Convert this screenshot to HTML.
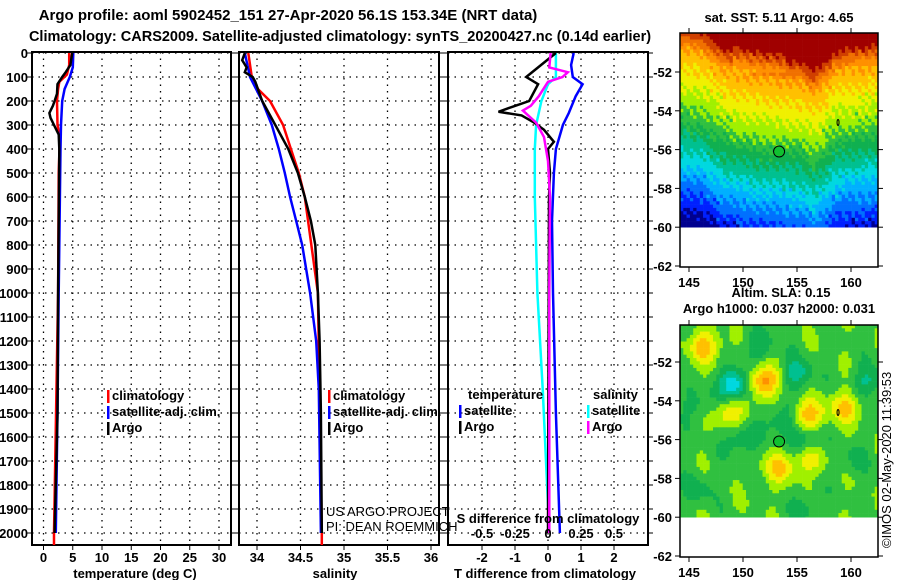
<!DOCTYPE html>
<html><head><meta charset="utf-8">
<style>
body{margin:0;background:#fff;width:900px;height:580px;overflow:hidden;font-family:"Liberation Sans",sans-serif}
svg text{font-family:"Liberation Sans",sans-serif;font-weight:bold;font-size:13px;fill:#000}
.thin{font-weight:normal !important}
</style></head><body>
<svg id="c" width="900" height="580"></svg>
<script>
// ---- data (depth in dbar) ----
const depthTicks=[0,100,200,300,400,500,600,700,800,900,1000,1100,1200,1300,1400,1500,1600,1700,1800,1900,2000];
const tempTicks=[0,5,10,15,20,25,30];
const salTicks=[34,34.5,35,35.5,36];
const salTickLabels=["34","34.5","35","35.5","36"];
const dTTicks=[-2,-1,0,1,2];
const dSTicks=[-0.5,-0.25,0,0.25,0.5];
const dSTickLabels=["-0.5","-0.25","0","0.25","0.5"];

const argoTDepth=[0,50,80,100,130,170,200,220,250,270,300,340,400,1000,1500,2000];
const argoTVal=[4.9,4.6,3.8,3.2,2.4,2.3,1.9,1.6,1.0,1.2,1.8,2.6,2.7,2.5,2.4,1.9];
const climTDepth=[0,50,90,120,150,200,300,350,500,1000,2000,2050];
const climTVal=[4.4,4.4,4.0,2.7,2.5,2.3,2.4,2.8,2.6,2.5,1.8,1.8];
const satTDepth=[0,60,100,150,200,300,400,600,1000,1500,2000];
const satTVal=[5.1,5.0,4.5,3.6,3.2,3.0,2.9,2.8,2.6,2.4,2.1];

const argoSDepth=[0,30,60,80,100,120,200,300,400,500,600,700,800,1000,1200,1500,2000];
const argoSVal=[33.86,33.83,33.88,33.86,33.95,33.98,34.06,34.21,34.36,34.47,34.55,34.62,34.67,34.70,34.72,34.735,34.745];
const climSDepth=[0,100,150,200,300,400,500,600,1000,2000,2050];
const climSVal=[33.9,33.94,34.01,34.15,34.30,34.39,34.48,34.55,34.70,34.745,34.745];
const satSDepth=[0,100,200,300,400,500,600,700,800,1000,1200,1400,2000];
const satSVal=[33.86,33.92,34.06,34.17,34.25,34.32,34.38,34.45,34.52,34.61,34.68,34.71,34.735];

const argoDTDepth=[0,100,130,200,230,245,260,290,320,370,400,500,600,2000];
const argoDTVal=[0.24,-0.66,-0.3,-0.57,-1.2,-1.5,-0.8,-0.42,-0.12,0.18,0.0,0.06,0.03,0.0];
const satDTDepth=[0,50,100,130,180,250,300,400,500,700,1000,1500,2000];
const satDTVal=[0.78,0.7,0.75,1.05,0.84,0.63,0.45,0.24,0.18,0.12,0.15,0.24,0.36];
const satDSDepth=[0,100,130,200,300,400,600,1000,1400,2000];
const satDSVal=[0.06,0.06,0.0,-0.05,-0.09,-0.1,-0.1,-0.08,-0.04,0.01];
const argoDSDepth=[0,60,80,100,120,180,220,240,260,290,350,450,600,1000,2000];
const argoDSVal=[0.02,0.01,0.15,0.11,0.0,-0.07,-0.13,-0.19,-0.15,-0.09,-0.03,0.0,0.015,0.01,0.01];

// ---- scales ----
const yD=d=>53+d*0.24;
const xT=t=>43.5+t*5.85;
const xS=s=>257+(s-34)*87;
const xDT=v=>548+v*33;
const xDS=v=>548+v*132;

const svg=document.getElementById('c');
const NS='http://www.w3.org/2000/svg';
function mk(tag,at,parent){const e=document.createElementNS(NS,tag);for(const k in at)e.setAttribute(k,at[k]);(parent||svg).appendChild(e);return e;}
function txt(s,x,y,anchor,parent,cls){const e=mk('text',{x:x,y:y,'text-anchor':anchor||'start'},parent);if(cls)e.setAttribute('class',cls);e.textContent=s;return e;}

function panel(name,x0,x1,vx,xFn){
  const g=mk('g',{});
  
  
  depthTicks.forEach(d=>{const l=mk('line',{x1:x0,x2:x1,y1:yD(d),y2:yD(d),stroke:'#000','stroke-width':1.3,'stroke-dasharray':'1.5,5'},g);
    
    mk('line',{x1:x0-5,x2:x0,y1:yD(d),y2:yD(d),stroke:'#000'},g);
    mk('line',{x1:x1,x2:x1+5,y1:yD(d),y2:yD(d),stroke:'#000'},g);});
  vx.forEach(v=>{const l=mk('line',{x1:xFn(v),x2:xFn(v),y1:52,y2:545,stroke:'#000','stroke-width':1.3,'stroke-dasharray':'1.5,5'},g);
    
    mk('line',{x1:xFn(v),x2:xFn(v),y1:545,y2:550,stroke:'#000'},g);});
  const r=mk('rect',{x:x0,y:52,width:x1-x0,height:493,fill:'none',stroke:'#000','stroke-width':2},g);
  
  return g;
}
function series(name,dep,val,xFn,color,parent){
  const p=mk('polyline',{points:dep.map((d,i)=>xFn(val[i]).toFixed(1)+','+yD(d).toFixed(1)).join(' '),fill:'none',stroke:color,'stroke-width':2.5},parent);
  
  
}
// titles
const t1=txt('Argo profile: aoml 5902452_151 27-Apr-2020 56.1S 153.34E (NRT data)',288,20,'middle');
t1.style.fontSize='15px';
const t2=txt('Climatology: CARS2009. Satellite-adjusted climatology: synTS_20200427.nc (0.14d earlier)',340,41,'middle');
t2.style.fontSize='14.5px';

// depth labels
depthTicks.forEach(d=>{const e=txt(String(d),28,yD(d)+5,'end');});

// Panel 1
const p1=panel('temperature-panel',32,231,tempTicks,xT);
series('climatology-temp',climTDepth,climTVal,xT,'#f00',p1);
series('satellite-temp',satTDepth,satTVal,xT,'#00f',p1);
series('argo-temp',argoTDepth,argoTVal,xT,'#000',p1);
tempTicks.forEach(v=>{const e=txt(String(v),xT(v),562,'middle',p1);});
let e=txt('temperature (deg C)',135,578,'middle',p1);
function legend(x,y,items,parent,pre){items.forEach((it,i)=>{const g=mk('g',{},parent);
  
  mk('rect',{x:x,y:y+i*16-10,width:2.5,height:13,fill:it[1]},g);txt(it[0],x+5,y+i*16,'start',g);});}
legend(107,400,[['climatology','#f00'],['satellite-adj. clim.','#00f'],['Argo','#000']],p1);

// Panel 2
const p2=panel('salinity-panel',239,439,salTicks,xS);
series('climatology-sal',climSDepth,climSVal,xS,'#f00',p2);
series('satellite-sal',satSDepth,satSVal,xS,'#00f',p2);
series('argo-sal',argoSDepth,argoSVal,xS,'#000',p2);
salTicks.forEach((v,i)=>{const e=txt(salTickLabels[i],xS(v),562,'middle',p2);});
e=txt('salinity',335,578,'middle',p2);
legend(328,400,[['climatology','#f00'],['satellite-adj. clim.','#00f'],['Argo','#000']],p2);
e=txt('US ARGO PROJECT',326,516,'start',p2,'thin');
e=txt('PI: DEAN ROEMMICH',326,531,'start',p2,'thin');

// Panel 3
const p3=panel('difference-panel',448,648,dTTicks,xDT);
series('satellite-sal-diff',satDSDepth,satDSVal,xDS,'#0ff',p3);
series('satellite-temp-diff',satDTDepth,satDTVal,xDT,'#00f',p3);
series('argo-temp-diff',argoDTDepth,argoDTVal,xDT,'#000',p3);
series('argo-sal-diff',argoDSDepth,argoDSVal,xDS,'#f0f',p3);
dTTicks.forEach(v=>{const e=txt(String(v),xDT(v),562,'middle',p3);});
dSTicks.forEach((v,i)=>{const e=txt(dSTickLabels[i],xDS(v),538,'middle',p3);});
e=txt('T difference from climatology',545,578,'middle',p3);
e=txt('S difference from climatology',548,523,'middle',p3);
e=txt('temperature',468,399,'start',p3);
e=txt('salinity',593,399,'start',p3);
legend(459,415,[['satellite','#00f'],['Argo','#000']],p3);
legend(587,415,[['satellite','#0ff'],['Argo','#f0f']],p3);

// ---- maps ----
const jet=['#00008f','#0020ff','#0070ff','#00b0ff','#00d8e0','#00c090','#10b050','#30c040','#a0f000','#f0f000','#ffc000','#ff9000','#f07000','#d04000','#a00000'];
const lonX=l=>689+(l-145)*10.8;
function interp(xs,ys,x){if(x<=xs[0])return ys[0];for(let i=1;i<xs.length;i++)if(x<=xs[i]){const t=(x-xs[i-1])/(xs[i]-xs[i-1]);return ys[i-1]+t*(ys[i]-ys[i-1]);}return ys[ys.length-1];}
function drawMap(name,top,y52,field,cs){
  const g=mk('g',{});
  
  const latY=lat=>y52+(-52-lat)*19.4;
  const x0=680,x1=878,ybot=latY(-60);
  for(let y=top;y<ybot-0.1;y+=cs){for(let x=x0;x<x1-0.1;x+=cs){
    const lon=145+(x+cs/2-689)/10.8, lat=-52-(y+cs/2-y52)/19.4;
    let v=field(lon,lat);v=Math.max(0,Math.min(jet.length-1,Math.round(v)));
    mk('rect',{x:x.toFixed(1),y:y.toFixed(1),width:Math.min(cs,x1-x)+0.3,height:Math.min(cs,ybot-y)+0.3,fill:jet[v]},g);}}
  const bot=latY(-62)+1;
  mk('rect',{x:x0,y:top,width:x1-x0,height:bot-top,fill:'none',stroke:'#000','stroke-width':1.5},g);
  [-52,-54,-56,-58,-60,-62].forEach(l=>{mk('line',{x1:x0-5,x2:x0,y1:latY(l),y2:latY(l),stroke:'#000'},g);mk('line',{x1:x1,x2:x1+5,y1:latY(l),y2:latY(l),stroke:'#000'},g);
    const t=txt(String(l),x0-8,latY(l)+5,'end',g);});
  [145,150,155,160].forEach(l=>{mk('line',{x1:lonX(l),x2:lonX(l),y1:bot,y2:bot+5,stroke:'#000'},g);mk('line',{x1:lonX(l),x2:lonX(l),y1:top-5,y2:top,stroke:'#000'},g);
    const t=txt(String(l),lonX(l),bot+20,'middle',g);});
  const c=mk('circle',{cx:lonX(153.34),cy:latY(-56.1),r:5.5,fill:'#10c030',stroke:'#000','stroke-width':1},g);
  
  mk('ellipse',{cx:lonX(158.8),cy:latY(-54.6),rx:1,ry:3,fill:'none',stroke:'#000'},g);
}
const bLon=[144,146,148,150,152,154,155.5,156.5,157.5,158.5,160,163];
const bLat=[-53.8,-54.0,-54.8,-55.2,-55.4,-55.5,-55.6,-56.1,-55.6,-55.0,-54.8,-54.6];
const sst=(lon,lat)=>{const b=interp(bLon,bLat,lon);
  const n=0.4*Math.sin(lon*7.3+lat*11.1)+0.3*Math.sin(lon*13.7-lat*5.3);
  const d=lat-b;
  return 7.5+(d>0?d*1.0+Math.max(0,d-3)*2:d*1.35)+n-(lon>149&&lon<154&&lat>-52?1:0);};
drawMap('sst-map',33,72,sst,3.3);
const blobs=[[146.5,-51.2,2.8],[151.8,-53.0,4.2],[156,-54.8,3.2],[159.5,-54.3,2.4],[148.8,-54.6,2.4],[153.5,-57.4,2.4],[156.2,-57.0,1.8],[149.3,-53.2,-4.2],[155,-52.6,-2.2],[153.5,-55.0,-1.8],[149.8,-56.0,-1.8],[155.7,-56.0,-2],[161.5,-53.0,-1.8],[145.8,-54.2,-1.2],[151.5,-51.2,-1.5],[146,-58.5,-1.2],[156,-59.5,-1.2],[160,-57,-1]];
const sla=(lon,lat)=>{let v=7.2;blobs.forEach(b=>{const dx=(lon-b[0])/1.5,dy=(lat-b[1])/0.8;v+=b[2]*Math.exp(-(dx*dx+dy*dy));});
  v+=0.4*Math.sin(lon*1.9)+0.3*Math.sin(lat*2.3+lon);return v;};
drawMap('sla-map',325,362,sla,3.3);
e=txt('sat. SST: 5.11 Argo: 4.65',779,22,'middle');
e=txt('Altim. SLA: 0.15',781,297,'middle');
e=txt('Argo h1000: 0.037 h2000: 0.031',779,313,'middle');
e=txt('©IMOS 02-May-2020 11:39:53',891,548,'start',null,'thin');e.setAttribute('transform','rotate(-90 891 548)');

</script>
</body></html>
